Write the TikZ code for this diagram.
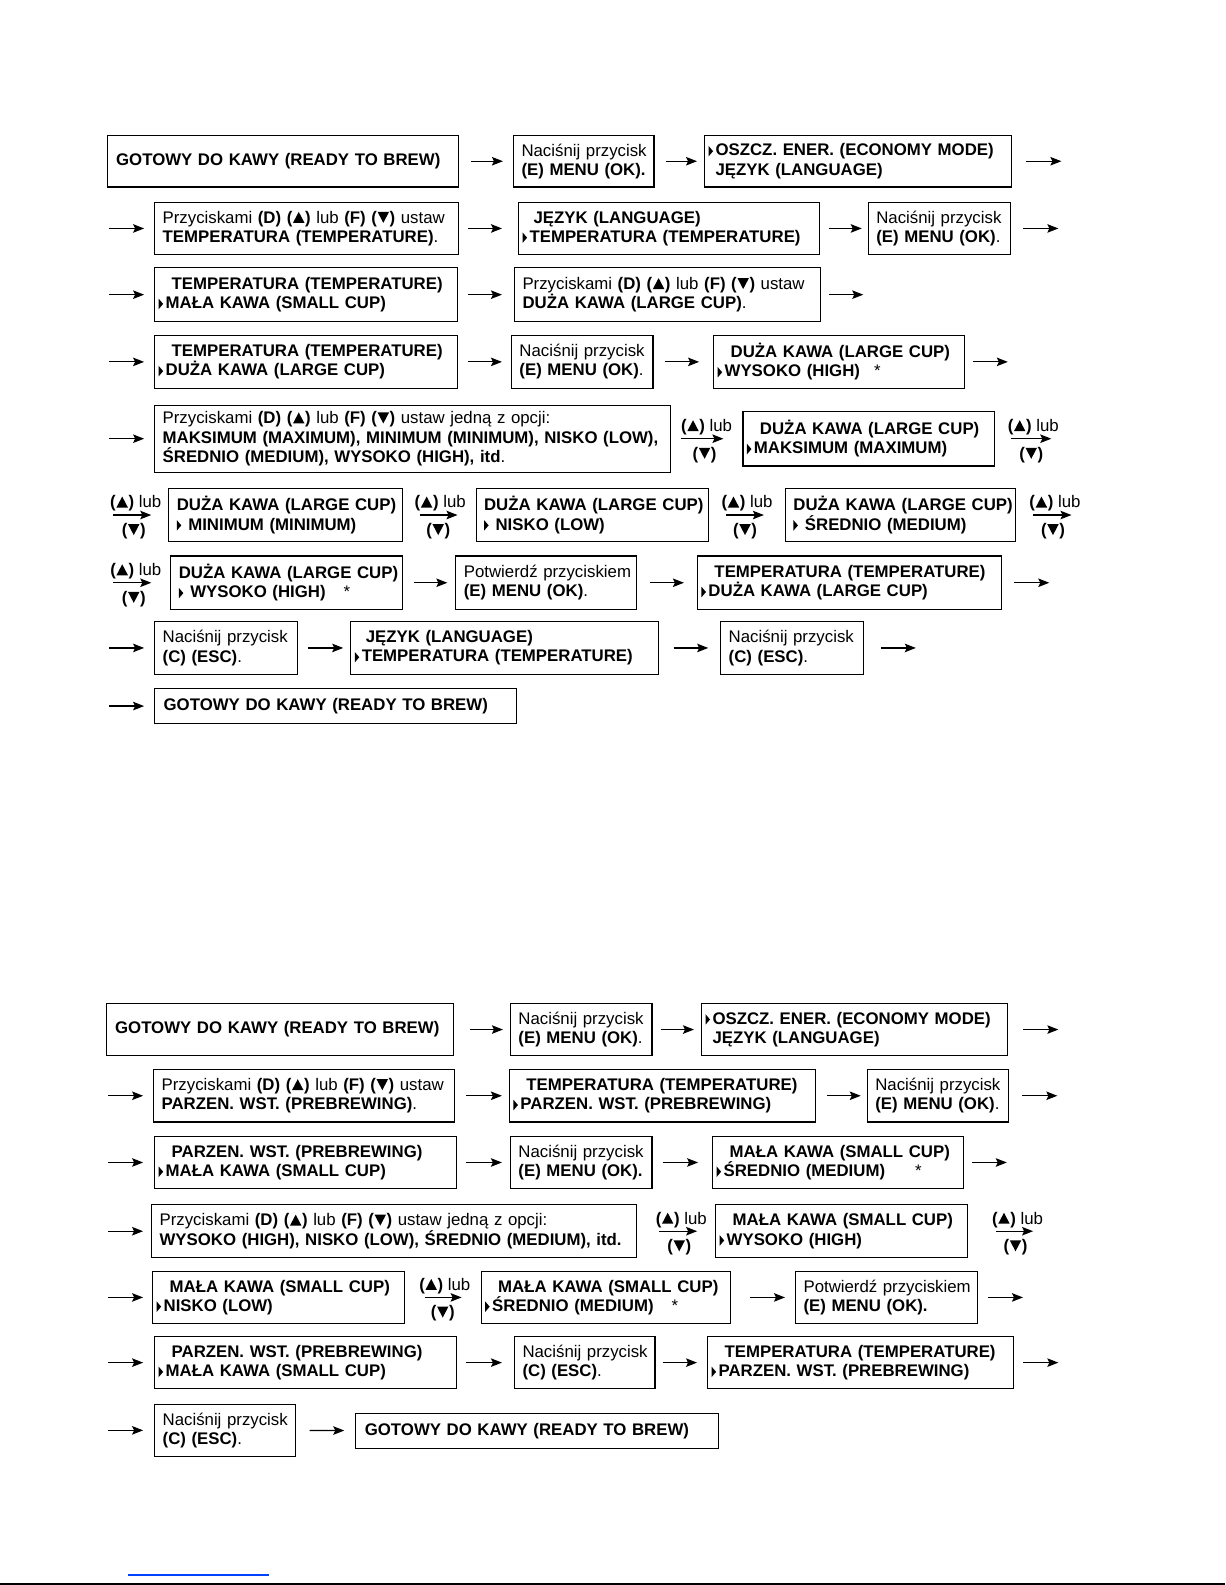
\documentclass[tikz,border=0pt]{standalone}
\usepackage{fontspec}
\setmainfont{Liberation Sans}
\usetikzlibrary{arrows.meta}

\newcommand\UpT{\hspace{0.6pt}\tikz[baseline=-0.3pt]\fill (0pt,0pt) -- (11.5pt,0pt) -- (5.75pt,11pt) -- cycle;\hspace{0.6pt}}
\newcommand\DnT{\hspace{0.6pt}\tikz[baseline=-0.3pt]\fill (0pt,11pt) -- (11.5pt,11pt) -- (5.75pt,0pt) -- cycle;\hspace{0.6pt}}
\newcommand\PtrX{\tikz[baseline=0pt]\fill (0pt,-0.5pt) -- (0pt,10pt) -- (4.5pt,4.75pt) -- cycle;}
% pointer line, tight
\newcommand\PtrL[1]{\mbox{\PtrX\hspace{2.5pt}\textbf{#1}}}
% pointer line, spaced
\newcommand\PtrS[1]{\mbox{\PtrX\hspace{7pt}\textbf{#1}}}
% indented bold line
\newcommand\IndL[2]{\mbox{\hspace*{#1pt}\textbf{#2}}}
\newcommand\BoldL[1]{\mbox{\textbf{#1}}}
\newcommand\NacE{\mbox{Naciśnij przycisk}\\\mbox{\textbf{(E) MENU (OK)}.}}
\newcommand\NacEb{\mbox{Naciśnij przycisk}\\\mbox{\textbf{(E) MENU (OK).}}}
\newcommand\NacC{\mbox{Naciśnij przycisk}\\\mbox{\textbf{(C) (ESC)}.}}
\newcommand\PotE{\mbox{Potwierdź przyciskiem}\\\mbox{\textbf{(E) MENU (OK)}.}}
\newcommand\PotEb{\mbox{Potwierdź przyciskiem}\\\mbox{\textbf{(E) MENU (OK).}}}
\newcommand\PrzL{\mbox{Przyciskami \textbf{(D) (\UpT)} lub \textbf{(F) (\DnT)} ustaw}}
\newcommand\PrzO{\mbox{Przyciskami \textbf{(D) (\UpT)} lub \textbf{(F) (\DnT)} ustaw jedną z opcji:}}

% box: name, x1, y1, x2, y2, left pad, text
\newcommand\bx[7]{%
  \pgfmathsetmacro\bxw{(#4-#2)*1.0107}%
  \pgfmathsetmacro\bxh{(#5-#3)*1.0107}%
  \pgfmathsetmacro\bxt{\bxw-2*#6}%
  \node[box,inner xsep=#6pt,minimum width=\bxw pt,minimum height=\bxh pt,text width=\bxt pt] (#1) at ({(#2+#4)/2},{(#3+#5)/2}) {#7};}
% connector between nodes
\newcommand\con[4]{\draw[arr,shorten <=#3pt,shorten >=#4pt] (#1) -- (#2);}
% labelled connector
\newcommand\lcon[5]{\draw[arr,shorten <=#3pt,shorten >=#4pt] (#1) -- (#2)
  node[lab,midway,above=2.5pt,xshift=#5pt] {\textbf{(\UpT)} lub}
  node[lab,midway,below=7pt,xshift=#5pt-2pt] {\textbf{(\DnT)}};}

\tikzset{
  box/.style={draw,line width=1.1pt,align=left,inner ysep=0pt,font=\fontsize{16.8}{19.3}\selectfont},
  arr/.style={line width=1.2pt,-{Stealth[length=11pt,width=8.5pt,inset=2pt]}},
  lab/.style={inner sep=1pt,font=\fontsize{16.8}{19.3}\selectfont}
}

\begin{document}
\begin{tikzpicture}[x=1.0107pt,y=-1.0107pt]
\useasboundingbox (0,0) rectangle (1212,1568);
\fill[white] (0,0) rectangle (1212,1568);

% ================= TOP SECTION =================
% row 1
\bx{a1}{106}{134}{454}{185}{9}{\BoldL{GOTOWY DO KAWY (READY TO BREW)}}
\bx{a2}{508}{134}{647}{185}{8}{\NacEb}
\bx{a3}{697}{134}{1001}{185}{4}{\PtrL{OSZCZ. ENER. (ECONOMY MODE)}\\\IndL{7}{JĘZYK (LANGUAGE)}}
\coordinate (a3o) at (1050,159.5);
\con{a1}{a2}{12}{10}
\con{a2}{a3}{11}{7}
\con{a3}{a3o}{14}{0}
% row 2
\coordinate (b1i) at (108,226);
\bx{b1}{153}{200}{454}{252}{8}{\PrzL\\\mbox{\textbf{TEMPERATURA (TEMPERATURE)}.}}
\bx{b2}{513}{200}{811}{252}{4}{\IndL{11}{JĘZYK (LANGUAGE)}\\\PtrL{TEMPERATURA (TEMPERATURE)}}
\bx{b3}{859}{200}{1000}{252}{8}{\NacE}
\coordinate (b3o) at (1047,226);
\con{b1i}{b1}{0}{10}
\con{b1}{b2}{9}{16}
\con{b2}{b3}{9}{6}
\con{b3}{b3o}{12}{0}
% row 3
\coordinate (c1i) at (108,291.5);
\bx{c1}{153}{265}{453}{318}{4}{\IndL{13}{TEMPERATURA (TEMPERATURE)}\\\PtrL{MAŁA KAWA (SMALL CUP)}}
\bx{c2}{509}{265}{812}{318}{8}{\PrzL\\\mbox{\textbf{DUŻA KAWA (LARGE CUP)}.}}
\coordinate (c2o) at (854,291.5);
\con{c1i}{c1}{0}{10}
\con{c1}{c2}{10}{12}
\con{c2}{c2o}{8}{0}
% row 4
\coordinate (d1i) at (108,358);
\bx{d1}{153}{332}{453}{384}{4}{\IndL{13}{TEMPERATURA (TEMPERATURE)}\\\PtrL{DUŻA KAWA (LARGE CUP)}}
\bx{d2}{506}{332}{646}{384}{8}{\NacE}
\bx{d3}{706}{332}{954}{384}{4}{\IndL{13}{DUŻA KAWA (LARGE CUP)}\\\mbox{\PtrX\hspace{2.5pt}\textbf{WYSOKO (HIGH)}\hspace{14pt}*}}
\coordinate (d3o) at (997,358);
\con{d1i}{d1}{0}{10}
\con{d1}{d2}{10}{9}
\con{d2}{d3}{11}{14}
\con{d3}{d3o}{8}{0}
% row 5
\coordinate (e1i) at (108,434);
\bx{e1}{153}{401}{663}{467}{8}{\PrzO\\\BoldL{MAKSIMUM (MAXIMUM), MINIMUM (MINIMUM), NISKO (LOW),}\\\mbox{\textbf{ŚREDNIO (MEDIUM), WYSOKO (HIGH), itd}.}}
\bx{e2}{735}{407}{984}{461}{4}{\IndL{13}{DUŻA KAWA (LARGE CUP)}\\\PtrL{MAKSIMUM (MAXIMUM)}}
\coordinate (e2o) at (1040,434);
\con{e1i}{e1}{0}{10}
\lcon{e1}{e2}{10}{19}{0}
\lcon{e2}{e2o}{16}{0}{10}
% row 6
\coordinate (f1i) at (112,509.5);
\bx{f1}{167}{483}{398}{536}{8}{\BoldL{DUŻA KAWA (LARGE CUP)}\\\PtrS{MINIMUM (MINIMUM)}}
\bx{f2}{471}{483}{701}{536}{8}{\BoldL{DUŻA KAWA (LARGE CUP)}\\\PtrS{NISKO (LOW)}}
\bx{f3}{777}{483}{1005}{536}{8}{\BoldL{DUŻA KAWA (LARGE CUP)}\\\PtrS{ŚREDNIO (MEDIUM)}}
\coordinate (f3o) at (1060,509.5);
\lcon{f1i}{f1}{0}{17}{-5}
\lcon{f1}{f2}{17}{18}{1}
\lcon{f2}{f3}{17}{21}{0}
\lcon{f3}{f3o}{17}{0}{11}
% row 7
\coordinate (g1i) at (112,576.5);
\bx{g1}{169}{550}{398}{603}{8}{\BoldL{DUŻA KAWA (LARGE CUP)}\\\mbox{\PtrX\hspace{7pt}\textbf{WYSOKO (HIGH)}\hspace{18pt}*}}
\bx{g2}{451}{550}{630}{603}{8}{\PotE}
\bx{g3}{690}{550}{991}{603}{4}{\IndL{13}{TEMPERATURA (TEMPERATURE)}\\\PtrL{DUŻA KAWA (LARGE CUP)}}
\coordinate (g3o) at (1038,576.5);
\lcon{g1i}{g1}{0}{19}{-6}
\con{g1}{g2}{11}{8}
\con{g2}{g3}{13}{13}
\con{g3}{g3o}{12}{0}
% row 8
\coordinate (h1i) at (108,641);
\bx{h1}{153}{615}{294}{667}{8}{\NacC}
\bx{h2}{347}{615}{651}{667}{4}{\IndL{11}{JĘZYK (LANGUAGE)}\\\PtrL{TEMPERATURA (TEMPERATURE)}}
\bx{h3}{713}{615}{854}{667}{8}{\NacC}
\coordinate (h3o) at (906,641);
\con{h1i}{h1}{0}{10}
\con{h1}{h2}{10}{7}
\con{h2}{h3}{15}{12}
\con{h3}{h3o}{17}{0}
% row 9
\coordinate (i1i) at (108,698.5);
\bx{i1}{153}{681}{511}{716}{9}{\BoldL{GOTOWY DO KAWY (READY TO BREW)}}
\con{i1i}{i1}{0}{10}

% ================= BOTTOM SECTION =================
% row 1
\bx{p1}{105}{993}{449}{1044}{9}{\BoldL{GOTOWY DO KAWY (READY TO BREW)}}
\bx{p2}{505}{993}{645}{1044}{8}{\NacE}
\bx{p3}{694}{993}{997}{1044}{4}{\PtrL{OSZCZ. ENER. (ECONOMY MODE)}\\\IndL{7}{JĘZYK (LANGUAGE)}}
\coordinate (p3o) at (1047,1018.5);
\con{p1}{p2}{16}{7}
\con{p2}{p3}{8}{7}
\con{p3}{p3o}{15}{0}
% row 2
\coordinate (q1i) at (107,1084);
\bx{q1}{152}{1058}{450}{1110}{8}{\PrzL\\\mbox{\textbf{PARZEN. WST. (PREBREWING)}.}}
\bx{q2}{504}{1058}{807}{1110}{4}{\IndL{13}{TEMPERATURA (TEMPERATURE)}\\\PtrL{PARZEN. WST. (PREBREWING)}}
\bx{q3}{858}{1058}{998}{1110}{8}{\NacE}
\coordinate (q3o) at (1046,1084);
\con{q1i}{q1}{0}{10}
\con{q1}{q2}{11}{7}
\con{q2}{q3}{11}{6}
\con{q3}{q3o}{13}{0}
% row 3
\coordinate (r1i) at (107,1150);
\bx{r1}{153}{1124}{452}{1176}{4}{\IndL{13}{PARZEN. WST. (PREBREWING)}\\\PtrL{MAŁA KAWA (SMALL CUP)}}
\bx{r2}{505}{1124}{645}{1176}{8}{\NacEb}
\bx{r3}{705}{1124}{953}{1176}{4}{\IndL{13}{MAŁA KAWA (SMALL CUP)}\\\mbox{\PtrX\hspace{2.5pt}\textbf{ŚREDNIO (MEDIUM)}\hspace{30pt}*}}
\coordinate (r3o) at (996,1150);
\con{r1i}{r1}{0}{11}
\con{r1}{r2}{9}{8}
\con{r2}{r3}{10}{14}
\con{r3}{r3o}{8}{0}
% row 4
\coordinate (s1i) at (107,1218);
\bx{s1}{150}{1192}{630}{1244}{8}{\PrzO\\\mbox{\textbf{WYSOKO (HIGH), NISKO (LOW), ŚREDNIO (MEDIUM), itd.}}}
\bx{s2}{708}{1192}{957}{1244}{4}{\IndL{13}{MAŁA KAWA (SMALL CUP)}\\\PtrL{WYSOKO (HIGH)}}
\coordinate (s2o) at (1022,1218);
\con{s1i}{s1}{0}{8}
\lcon{s1}{s2}{22}{18}{5}
\lcon{s2}{s2o}{28}{0}{17}
% row 5
\coordinate (t1i) at (107,1283.5);
\bx{t1}{151}{1258}{400}{1309}{4}{\IndL{13}{MAŁA KAWA (SMALL CUP)}\\\PtrL{NISKO (LOW)}}
\bx{t2}{476}{1258}{723}{1309}{4}{\IndL{13}{MAŁA KAWA (SMALL CUP)}\\\mbox{\PtrX\hspace{2.5pt}\textbf{ŚREDNIO (MEDIUM)}\hspace{18pt}*}}
\bx{t3}{787}{1258}{967}{1309}{8}{\PotEb}
\coordinate (t3o) at (1012,1283.5);
\con{t1i}{t1}{0}{9}
\lcon{t1}{t2}{20}{19}{2}
\con{t2}{t3}{19}{10}
\con{t3}{t3o}{10}{0}
% row 6
\coordinate (u1i) at (107,1348);
\bx{u1}{153}{1322}{452}{1374}{4}{\IndL{13}{PARZEN. WST. (PREBREWING)}\\\PtrL{MAŁA KAWA (SMALL CUP)}}
\bx{u2}{509}{1322}{648}{1374}{8}{\NacC}
\bx{u3}{700}{1322}{1003}{1374}{4}{\IndL{13}{TEMPERATURA (TEMPERATURE)}\\\PtrL{PARZEN. WST. (PREBREWING)}}
\coordinate (u3o) at (1047,1348);
\con{u1i}{u1}{0}{11}
\con{u1}{u2}{9}{12}
\con{u2}{u3}{7}{10}
\con{u3}{u3o}{9}{0}
% row 7
\coordinate (v1i) at (107,1415);
\bx{v1}{153}{1389}{292}{1441}{8}{\NacC}
\bx{v2}{352}{1398}{711}{1433}{9}{\BoldL{GOTOWY DO KAWY (READY TO BREW)}}
\con{v1i}{v1}{0}{11}
\con{v1}{v2}{14}{11}

% page edge marks
\draw[line width=1.2pt,blue!75!cyan] (127,1558) -- (266,1558);
\draw[line width=1.2pt] (0,1567) -- (1212,1567);
\end{tikzpicture}
\end{document}
